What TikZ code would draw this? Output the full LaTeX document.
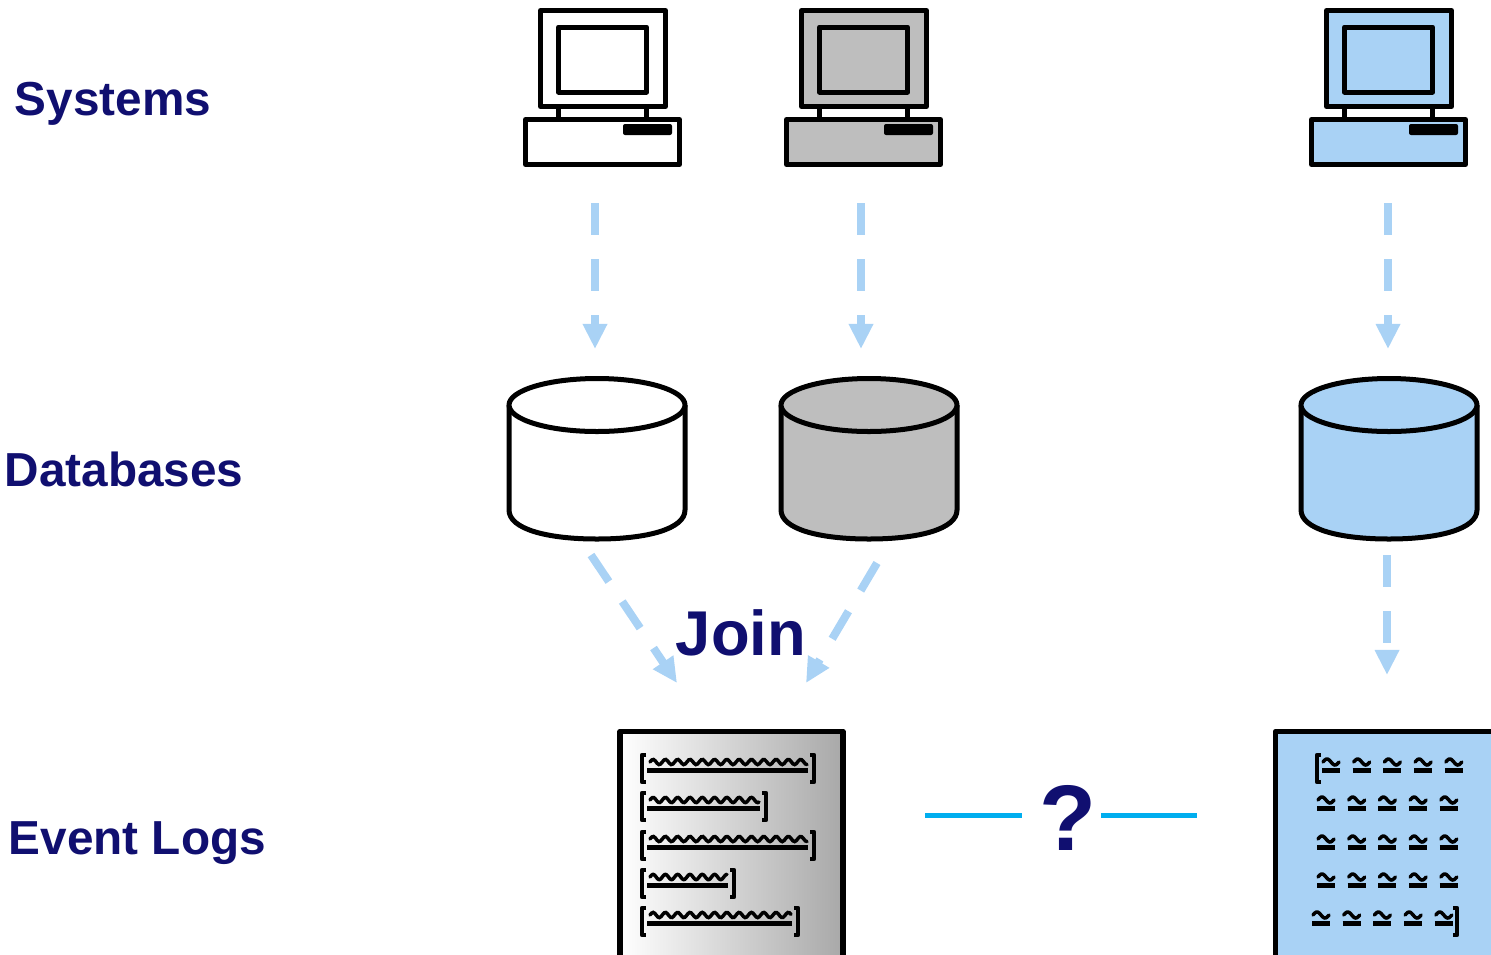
\documentclass[tikz,border=0pt]{standalone}
\usepackage{fontspec}
\setmainfont{Liberation Sans}
\usetikzlibrary{arrows.meta}
\definecolor{navytext}{HTML}{100F70}
\definecolor{paleblue}{HTML}{A9D2F5}
\definecolor{midgray}{HTML}{BEBEBE}
\definecolor{linkblue}{HTML}{00AEEF}
\tikzset{
	outl/.style={draw=black,line width=0.05cm,line join=round},
	docoutl/.style={draw=black,line width=0.055cm,line join=round},
	rowlabel/.style={text=navytext,font=\bfseries\fontsize{13.57}{16}\selectfont,inner sep=0pt,anchor=base west},
	bigtext/.style={text=navytext,font=\bfseries\fontsize{#1}{30}\selectfont,inner sep=0pt,anchor=base},
	flow/.style={draw=paleblue,line width=0.08cm,dash pattern=on 0.32cm off 0.24cm,-{Triangle[length=0.25cm,width=0.23cm]}},
	link/.style={draw=linkblue,line width=0.05cm},
	wave/.style={line width=0.035cm,line cap=round},
	rule/.style={line width=0.045cm},
	brack/.style={line width=0.045cm,line join=round},
	pics/computer/.style={code={
		\draw[outl,fill=#1] (-62.5,-77.5) rectangle (62.5,18.5);
		\draw[outl,fill=#1] (-44.5,-61) rectangle (43.5,4);
		\draw[outl] (-44.5,18.5) -- (-44.5,31.5) (43.5,18.5) -- (43.5,31.5);
		\draw[outl,fill=#1] (-77.5,31.5) rectangle (76.5,76.5);
		\fill[black,rounded corners=0.02cm] (20,36) rectangle (69,47);
	}},
	pics/database/.style={code={
		\draw[outl,fill=#1] (-88,0) -- (-88,105)
			.. controls (-88,124) and (-50,134) .. (0,134)
			.. controls (50,134) and (88,124) .. (88,105) -- (88,0);
		\draw[outl,fill=#1] (0,0) ellipse [x radius=88,y radius=26.5];
	}}
}
\newcommand{\logline}[2]{
	\draw[brack] (646,#2-7) -- (642,#2-7) -- (642,#2+20) -- (646,#2+20);
	\draw[wave] plot[smooth,domain=650:#1-1,samples=90] (\x,{#2-2.6*sin(mod(\x-650,12.3)*360/12.3)});
	\draw[rule] (647,#2+8.5) -- (#1,#2+8.5);
	\draw[brack] (#1+2,#2-7) -- (#1+6,#2-7) -- (#1+6,#2+20) -- (#1+2,#2+20);
}
\newcommand{\logtilde}[2]{
	\draw[wave] plot[smooth,domain=0:16,samples=20] ({#1+1+\x},{#2-3*sin(\x*360/16)});
	\draw[rule] (#1,#2+8.5) -- (#1+18,#2+8.5);
}
\begin{document}
\begin{tikzpicture}[x=0.01cm,y=-0.01cm]
	\useasboundingbox (0,0) rectangle (1491,954);
	\clip (0,0) rectangle (1491,954);

	% row labels
	\node[rowlabel] (systems) at (14,115) {Systems};
	\node[rowlabel] (databases) at (4,486) {Databases};
	\node[rowlabel] (eventlogs) at (8,854.5) {Event Logs};

	% computers
	\pic (pca) at (603,88) {computer=white};
	\pic (pcb) at (864,88) {computer=midgray};
	\pic (pcc) at (1389,88) {computer=paleblue};

	% databases
	\pic (dba) at (597,405) {database=white};
	\pic (dbb) at (869,405) {database=midgray};
	\pic (dbc) at (1389,405) {database=paleblue};

	% ends of the arrows
	\coordinate (pcaout) at (595,203);
	\coordinate (pcbout) at (861,203);
	\coordinate (pccout) at (1388,203);
	\coordinate (dbain) at (595,349);
	\coordinate (dbbin) at (861,349);
	\coordinate (dbcin) at (1388,349);
	\coordinate (dbaout) at (591,555);
	\coordinate (dbbout) at (877,563);
	\coordinate (dbcout) at (1387,555);
	\coordinate (logain) at (677,683);
	\coordinate (logbin) at (806,683);
	\coordinate (logcin) at (1387,675);

	\draw[flow] (pcaout) -- (dbain);
	\draw[flow] (pcbout) -- (dbbin);
	\draw[flow] (pccout) -- (dbcin);
	\draw[flow] (dbaout) -- (logain);
	\draw[flow] (dbbout) -- (logbin);
	\draw[flow] (dbcout) -- (logcin);

	\node[bigtext=18] (join) at (741,655.5) {Join};

	% joined log
	\draw[docoutl,left color=white,middle color=black!14,right color=black!34] (620,731.5) rectangle (843,990);
	\logline{808}{762}
	\logline{760}{800}
	\logline{808}{839}
	\logline{728}{877}
	\logline{792}{915}

	% the question
	\node[bigtext=26.5] (question) at (1068,850) {?};
	\coordinate (linkleft) at (925,815);
	\coordinate (linkright) at (1197,815);
	\coordinate (qleft) at (1022,815);
	\coordinate (qright) at (1101,815);
	\draw[link] (linkleft) -- (qleft);
	\draw[link] (qright) -- (linkright);

	% other log
	\draw[docoutl,fill=paleblue] (1275.5,731.5) rectangle (1600,990);
	\foreach \col in {0,...,4}{
		\logtilde{1322+30.7*\col}{762}
		\logtilde{1317+30.7*\col}{800}
		\logtilde{1317+30.7*\col}{839}
		\logtilde{1317+30.7*\col}{877}
		\logtilde{1312+30.7*\col}{915}
	}
	\draw[brack] (1321,755) -- (1317,755) -- (1317,782) -- (1321,782);
	\draw[brack] (1453,908) -- (1457,908) -- (1457,935) -- (1453,935);
\end{tikzpicture}
\end{document}
